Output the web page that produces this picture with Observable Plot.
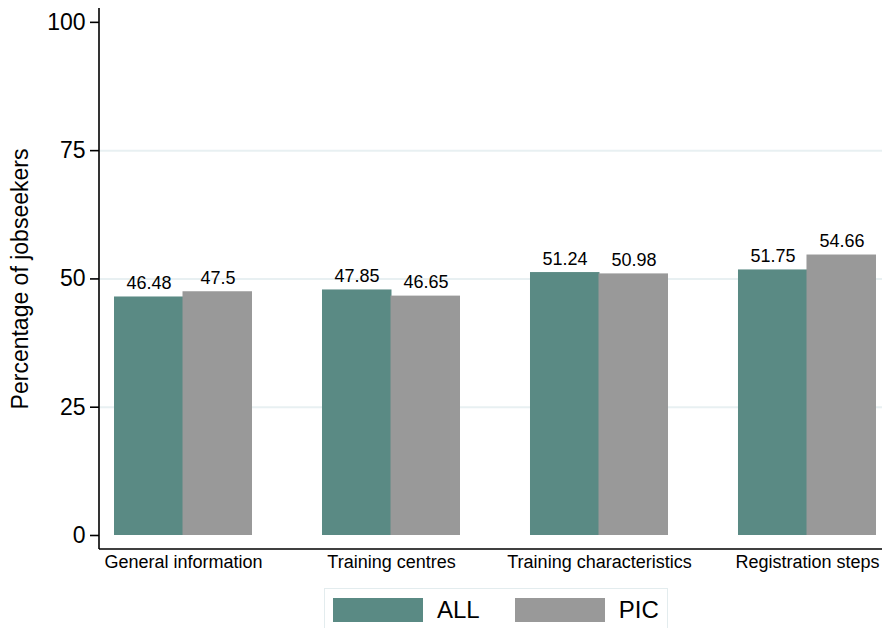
<!DOCTYPE html>
<html>
<head>
<meta charset="utf-8">
<script src="https://cdn.jsdelivr.net/npm/d3@7"></script>
<script src="https://cdn.jsdelivr.net/npm/@observablehq/plot@0.6"></script>
<style>
  html, body { margin: 0; padding: 0; background: #fff; }
  body { width: 882px; height: 628px; overflow: hidden; font-family: "Liberation Sans", Arial, Helvetica, sans-serif; }
  #legend { position: relative; margin-left: 324px; margin-top: 6px; width: 344px; height: 44px;
    border: 1px solid #e3ecee; box-sizing: border-box; display: flex; align-items: center; padding-left: 8px; }
  .sw { width: 90px; height: 24px; flex: 0 0 auto; }
  .lab { font-size: 24px; color: #000; margin-left: 14px; flex: 0 0 auto; }
  .gap { width: 35px; flex: 0 0 auto; }
</style>
</head>
<body>
<div id="chart"></div>
<div id="legend"></div>
<script>
const categories = ["General information", "Training centres", "Training characteristics", "Registration steps"];
const seriesNames = ["ALL", "PIC"];
const allValues = [46.48, 47.85, 51.24, 51.75];
const picValues = [47.5, 46.65, 50.98, 54.66];
const yTicks = [0, 25, 50, 75, 100];
const gridTicks = [25, 50, 75];
const colors = {ALL: "#5a8a84", PIC: "#999999"};

const width = 882, height = 582;
const marginLeft = 99, marginRight = 0, marginTop = 8, marginBottom = 33;
const paddingInner = 0.3365, paddingOuter = 0.0505, align = 0.714;
const yDomain = [-2.73, 102.7];

const step = (width - marginLeft - marginRight) / (categories.length - paddingInner + 2 * paddingOuter);
const bandwidth = step * (1 - paddingInner);
const half = bandwidth / 2;

const allData = categories.map((c, i) => ({category: c, value: allValues[i]}));
const picData = categories.map((c, i) => ({category: c, value: picValues[i]}));

const axisLines = (index, scales, values, dims) => {
  const g = d3.create("svg:g");
  g.append("line")
    .attr("x1", dims.marginLeft).attr("x2", dims.marginLeft)
    .attr("y1", dims.marginTop).attr("y2", dims.height - dims.marginBottom)
    .attr("stroke", "#000").attr("stroke-width", 1.6);
  g.append("line")
    .attr("x1", dims.marginLeft).attr("x2", dims.width - dims.marginRight)
    .attr("y1", dims.height - dims.marginBottom).attr("y2", dims.height - dims.marginBottom)
    .attr("stroke", "#000").attr("stroke-width", 1.6);
  return g.node();
};

const plot = Plot.plot({
  width, height, marginLeft, marginRight, marginTop, marginBottom,
  style: {fontFamily: "'Liberation Sans', Arial, Helvetica, sans-serif", background: "#fff", color: "#000"},
  x: {domain: categories, paddingInner, paddingOuter, align, round: false, axis: null},
  y: {domain: yDomain, axis: null},
  marks: [
    Plot.ruleY(gridTicks, {stroke: "#e8f0f2", strokeWidth: 2}),
    Plot.barY(allData, {x: "category", y: "value", fill: colors.ALL, insetRight: half - 0.5}),
    Plot.barY(picData, {x: "category", y: "value", fill: colors.PIC, insetLeft: half - 0.5}),
    Plot.text(allData, {x: "category", y: "value", text: d => String(d.value), dx: -half / 2, dy: -8, lineAnchor: "bottom", fontSize: 18, fill: "#000"}),
    Plot.text(picData, {x: "category", y: "value", text: d => String(d.value), dx: half / 2, dy: -8, lineAnchor: "bottom", fontSize: 18, fill: "#000"}),
    Plot.axisY(yTicks, {tickSize: 9, tickPadding: 5, fontSize: 23, strokeWidth: 1.6,
      label: "Percentage of jobseekers", labelAnchor: "center", labelOffset: 88, labelArrow: "none"}),
    Plot.axisX(categories, {tickSize: 0, tickPadding: 6, fontSize: 18, label: null}),
    axisLines
  ]
});
document.getElementById("chart").appendChild(plot);

const legend = document.getElementById("legend");
seriesNames.forEach((name, i) => {
  if (i > 0) {
    const gap = document.createElement("div");
    gap.className = "gap";
    legend.appendChild(gap);
  }
  const sw = document.createElement("div");
  sw.className = "sw";
  sw.style.background = colors[name];
  const lab = document.createElement("span");
  lab.className = "lab";
  lab.textContent = name;
  legend.appendChild(sw);
  legend.appendChild(lab);
});
</script>
</body>
</html>
